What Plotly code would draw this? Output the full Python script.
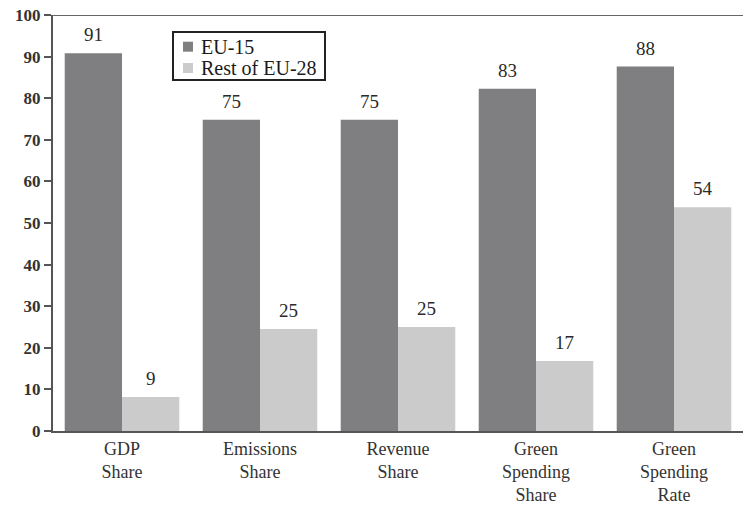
import plotly.graph_objects as go

categories = ["GDP<br>Share", "Emissions<br>Share", "Revenue<br>Share",
              "Green<br>Spending<br>Share", "Green<br>Spending<br>Rate"]
series_names = ["EU-15", "Rest of EU-28"]
series_colors = ["#7f7e80", "#cccbcc"]
eu15_values = [90.8, 74.8, 74.8, 82.3, 87.6]
rest_values = [8.2, 24.5, 25.0, 16.8, 53.8]
eu15_labels = ["91", "75", "75", "83", "88"]
rest_labels = ["9", "25", "25", "17", "54"]
y_ticks = [0, 10, 20, 30, 40, 50, 60, 70, 80, 90, 100]

FONT = "Liberation Serif"
BAR_HALF_PX = 28.6  # half of one bar's pixel width (for label centring)

fig = go.Figure()
for name, color, vals in zip(series_names, series_colors, [eu15_values, rest_values]):
    fig.add_trace(go.Bar(
        name=name, x=categories, y=vals,
        marker=dict(color=color, line=dict(width=0)),
        showlegend=False,
    ))

annotations = []
for shift, vals, labels in [(-BAR_HALF_PX, eu15_values, eu15_labels),
                            (BAR_HALF_PX, rest_values, rest_labels)]:
    for cat, v, lab in zip(categories, vals, labels):
        annotations.append(dict(
            x=cat, y=v, xref="x", yref="y", text=lab, showarrow=False,
            xanchor="center", yanchor="bottom", xshift=shift, yshift=6,
            font=dict(family=FONT, size=19, color="#2a2a2a"),
        ))

# legend (box, swatches, labels) in paper coordinates
L_X0, L_X1, L_Y0, L_Y1 = 0.1739, 0.3942, 0.8438, 0.9591
sw_x0, sw_x1 = 0.1884, 0.2029
sw_rows = [(0.9118, 0.9358), (0.8606, 0.8846)]
shapes = [
    dict(type="line", xref="paper", yref="y", x0=0, x1=1, y0=100, y1=100,
         line=dict(color="#666666", width=2)),
    dict(type="rect", xref="paper", yref="paper", x0=L_X0, x1=L_X1, y0=L_Y0, y1=L_Y1,
         line=dict(color="#222222", width=2), fillcolor="white", layer="above"),
]
for (y0, y1), color, name in zip(sw_rows, series_colors, series_names):
    shapes.append(dict(type="rect", xref="paper", yref="paper", x0=sw_x0, x1=sw_x1,
                       y0=y0, y1=y1, line=dict(width=0), fillcolor=color, layer="above"))
    annotations.append(dict(
        x=0.2116, y=(y0 + y1) / 2, xref="paper", yref="paper", text=name,
        showarrow=False, xanchor="left", yanchor="middle",
        font=dict(family=FONT, size=20, color="#1a1a1a"),
    ))

fig.update_layout(
    width=743, height=507,
    margin=dict(l=53, r=0, t=15, b=76, autoexpand=False),
    paper_bgcolor="white", plot_bgcolor="white",
    barmode="group", bargap=0.17, bargroupgap=0,
    showlegend=False,
    font=dict(family=FONT, color="#333333"),
    xaxis=dict(
        showline=True, linecolor="#555555", linewidth=2,
        ticks="", showgrid=False, ticklabelstandoff=0, automargin=False,
        tickfont=dict(family=FONT, size=18, color="#333333"),
    ),
    yaxis=dict(
        range=[0, 100], tickvals=y_ticks, automargin=False,
        showline=True, linecolor="#555555", linewidth=2,
        ticks="outside", ticklen=7, tickwidth=2, tickcolor="#555555",
        showgrid=False, zeroline=False,
        tickfont=dict(family=FONT, size=17, color="#333333", weight="bold"),
    ),
    shapes=shapes,
    annotations=annotations,
)

fig.write_html("out.html")
